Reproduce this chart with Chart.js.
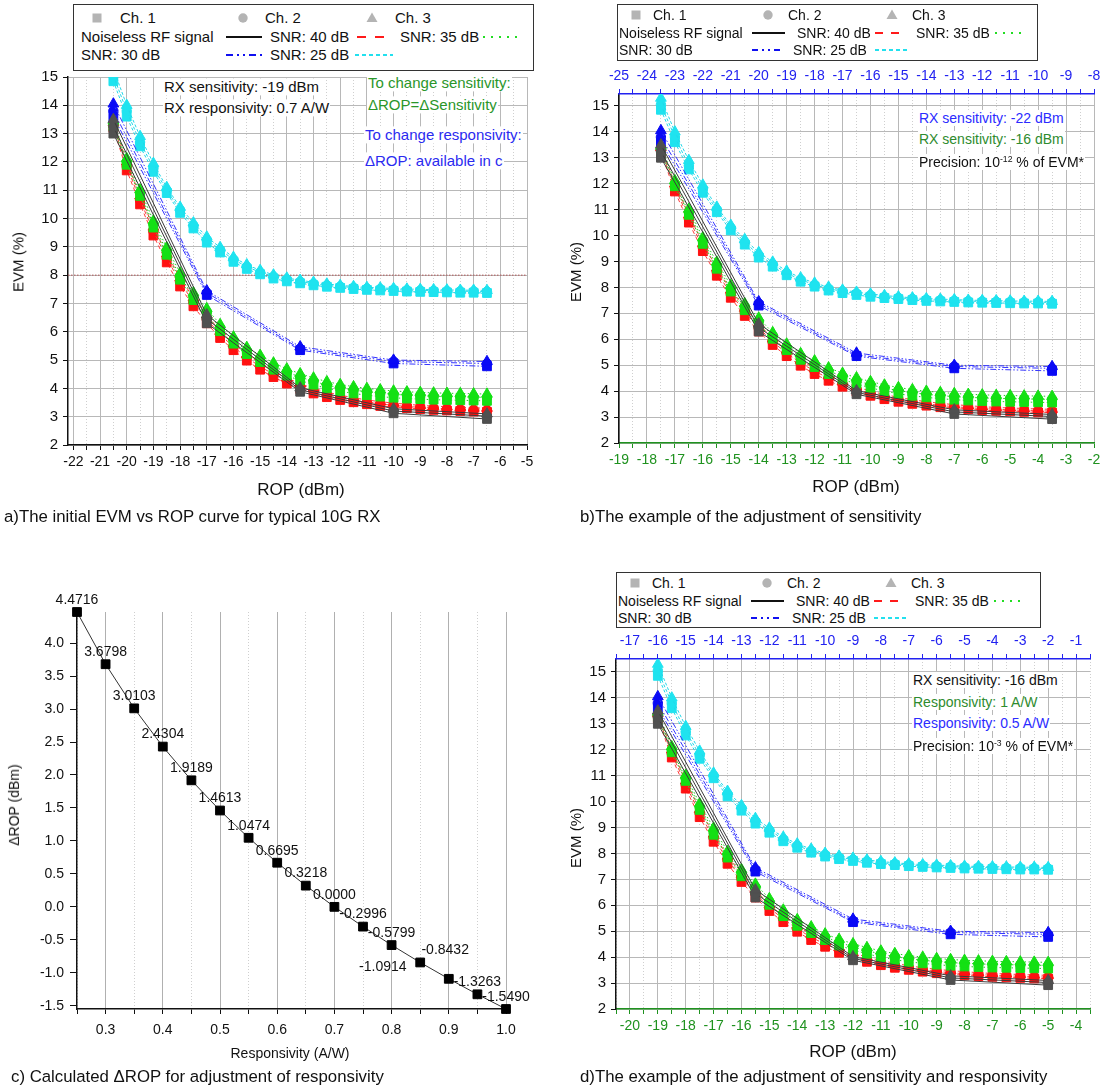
<!DOCTYPE html>
<html>
<head>
<meta charset="utf-8">
<script src="https://cdn.jsdelivr.net/npm/chart.js@4.4.0/dist/chart.umd.min.js"></script>
<style>
  body { margin: 0; background: #fff; width: 1110px; height: 1089px; position: relative; overflow: hidden;
         font-family: "Liberation Sans", Arial, sans-serif; color: #111; }
  canvas { position: absolute; }
  .t { position: absolute; white-space: nowrap; line-height: 1.15; }
  .lg { position: absolute; border: 1px solid #333; background: #fff; box-sizing: border-box; }
  sup { font-size: 0.62em; vertical-align: 0; position: relative; top: -0.55em; line-height: 0; }
</style>
</head>
<body>
<canvas id="chA" width="555" height="450" style="left:0;top:55px"></canvas>
<canvas id="chB" width="550" height="430" style="left:560px;top:60px"></canvas>
<canvas id="chC" width="545" height="460" style="left:0;top:590px"></canvas>
<canvas id="chD" width="550" height="430" style="left:560px;top:625px"></canvas>
<script>
// ROP positions (dBm) of the measured points
const ropA = [-20.5,-20,-19.5,-19,-18.5,-18,-17.5,-17,-16.5,-16,-15.5,-15,-14.5,-14,-13.5,-13,-12.5,-12,-11.5,-11,-10.5,-10,-9.5,-9,-8.5,-8,-7.5,-7,-6.5];
const ropB = [-17.5,-17,-16.5,-16,-15.5,-15,-14.5,-14,-13.5,-13,-12.5,-12,-11.5,-11,-10.5,-10,-9.5,-9,-8.5,-8,-7.5,-7,-6.5,-6,-5.5,-5,-4.5,-4,-3.5];
const ropD = [-19,-18.5,-18,-17.5,-17,-16.5,-16,-15.5,-15,-14.5,-14,-13.5,-13,-12.5,-12,-11.5,-11,-10.5,-10,-9.5,-9,-8.5,-8,-7.5,-7,-6.5,-6,-5.5,-5];
const ropA5 = [-20.5,-17,-13.5,-10,-6.5];
const ropB5 = [-17.5,-14,-10.5,-7,-3.5];
const ropD5 = [-19,-15.5,-12,-8.5,-5];

// EVM (%) - noiseless RF signal, Ch.1/2/3
const evmNoiseless1 = [13.0, 6.3, 3.88, 3.12, 2.92];
const evmNoiseless2 = [13.25, 6.45, 3.95, 3.2, 3.02];
const evmNoiseless3 = [13.5, 6.6, 4.02, 3.28, 3.1];
// SNR 40 dB
const evm40_1 = [13.2,11.7,10.5,9.4,8.45,7.6,6.9,6.3,5.78,5.35,4.98,4.66,4.4,4.17,3.98,3.82,3.69,3.59,3.51,3.44,3.38,3.34,3.3,3.27,3.24,3.22,3.2,3.18,3.17];
const evm40_2 = [13.3,11.85,10.65,9.55,8.6,7.75,7.05,6.45,5.9,5.47,5.09,4.77,4.5,4.27,4.07,3.91,3.78,3.67,3.58,3.51,3.45,3.4,3.36,3.33,3.3,3.28,3.26,3.24,3.23];
const evm40_3 = [13.4,12.0,10.8,9.7,8.75,7.9,7.2,6.6,6.02,5.59,5.2,4.88,4.6,4.37,4.16,4.0,3.87,3.76,3.67,3.59,3.53,3.48,3.44,3.4,3.37,3.35,3.33,3.31,3.3];
// SNR 35 dB
const evm35_1 = [13.25,11.9,10.8,9.68,8.72,7.84,7.12,6.57,6.02,5.58,5.21,4.93,4.66,4.45,4.28,4.13,4.0,3.9,3.82,3.76,3.71,3.67,3.64,3.62,3.6,3.59,3.58,3.57,3.56];
const evm35_2 = [13.35,12.0,10.9,9.8,8.85,7.96,7.25,6.7,6.14,5.7,5.33,5.05,4.78,4.57,4.4,4.25,4.12,4.02,3.94,3.88,3.83,3.79,3.76,3.74,3.72,3.71,3.7,3.69,3.68];
const evm35_3 = [13.45,12.12,11.02,9.92,8.98,8.08,7.38,6.82,6.26,5.82,5.45,5.17,4.9,4.69,4.52,4.37,4.24,4.14,4.06,4.0,3.95,3.91,3.88,3.86,3.84,3.83,3.82,3.81,3.8];
// SNR 30 dB
const evm30_1 = [13.6, 7.3, 5.35, 4.88, 4.78];
const evm30_2 = [13.8, 7.38, 5.4, 4.95, 4.88];
const evm30_3 = [14.05, 7.45, 5.47, 5.0, 4.95];
// SNR 25 dB
const evm25_1 = [14.85,13.6,12.55,11.65,10.9,10.2,9.65,9.15,8.8,8.47,8.22,8.03,7.88,7.78,7.71,7.64,7.59,7.55,7.51,7.48,7.46,7.44,7.42,7.41,7.4,7.39,7.38,7.38,7.37];
const evm25_2 = [15.05,13.8,12.7,11.8,11.0,10.3,9.75,9.25,8.9,8.55,8.3,8.1,7.95,7.85,7.77,7.7,7.64,7.6,7.56,7.53,7.51,7.49,7.47,7.46,7.45,7.44,7.43,7.43,7.42];
const evm25_3 = [15.3,14.0,12.9,11.95,11.1,10.4,9.85,9.35,8.98,8.63,8.37,8.17,8.01,7.9,7.82,7.75,7.69,7.64,7.6,7.57,7.55,7.53,7.51,7.5,7.49,7.48,7.47,7.47,7.46];
const evmLimit = 8;

// panel c
const responsivity = [0.25,0.30,0.35,0.40,0.45,0.50,0.55,0.60,0.65,0.70,0.75,0.80,0.85,0.90,0.95,1.00];
const deltaRop = [4.4716,3.6798,3.0103,2.4304,1.9189,1.4613,1.0474,0.6695,0.3218,0.0000,-0.2996,-0.5799,-0.8432,-1.0914,-1.3263,-1.5490];

Chart.defaults.font.family = '"Liberation Sans", Arial, sans-serif';
Chart.defaults.font.size = 14;
Chart.defaults.color = '#111';

const GREEN_AX = '#1f921f', BLUE_AX = '#2222f0';
const isInt = v => v !== undefined && Math.abs(v - Math.round(v)) < 1e-6;
const styles = ['rect', 'circle', 'triangle'];
const radii = [6.2, 4.7, 6.2];

function group(name, xs, ys, color, lineColor, dash) {
  // ys: [ch1, ch2, ch3]; triangles listed first so they land on top
  return [2, 1, 0].map(k => ({
    label: name + ' Ch. ' + (k + 1),
    data: xs.map((x, i) => ({ x: x, y: ys[k][i] })),
    showLine: true,
    borderColor: lineColor,
    borderWidth: 1,
    borderDash: dash,
    pointStyle: styles[k],
    pointRadius: radii[k],
    pointHoverRadius: radii[k],
    pointBackgroundColor: color,
    pointBorderColor: color,
    pointBorderWidth: 1
  }));
}

function xAxis(min, max, pos, color, height) {
  return {
    type: 'linear', position: pos, min: min, max: max,
    afterFit: s => { s.height = height; },
    ticks: { stepSize: 0.5, includeBounds: false, autoSkip: false, maxRotation: 0, minRotation: 0, padding: 4, color: color,
             font: { size: 14 }, callback: v => isInt(v) ? String(Math.round(v)) : '' },
    grid: { drawOnChartArea: pos === 'bottom',
            color: c => c.tick && isInt(c.tick.value) ? '#b8b8b8' : '#cfcfcf',
            tickColor: color, tickLength: 5 },
    border: { color: color, width: 1.5, dash: c => c.tick && !isInt(c.tick.value) ? [1, 2] : [] }
  };
}

function yAxis(min, max, width) {
  return {
    min: min, max: max,
    afterFit: s => { s.width = width; },
    ticks: { stepSize: 0.5, includeBounds: false, padding: 5, color: '#111', font: { size: 15 },
             callback: v => isInt(v) ? String(Math.round(v)) : '' },
    grid: { color: c => c.tick && isInt(c.tick.value) ? '#b8b8b8' : 'rgba(0,0,0,0)', tickColor: '#111', tickLength: 5 },
    border: { color: '#111', width: 1.5 }
  };
}

function evmChart(id, rop, rop5, xMin, xMax, xColor, top, yMax, yW, pad, limit) {
  const ds = [].concat(
    group('Noiseless RF signal', rop5, [evmNoiseless1, evmNoiseless2, evmNoiseless3], '#505050', '#3a3a3a', []),
    group('SNR: 30 dB', rop5, [evm30_1, evm30_2, evm30_3], '#0a0af5', '#3434ff', [6, 2, 1.5, 2, 1.5, 2]),
    group('SNR: 35 dB', rop, [evm35_1, evm35_2, evm35_3], '#14e014', '#22cc22', [1.5, 2.5]),
    group('SNR: 40 dB', rop, [evm40_1, evm40_2, evm40_3], '#ff1111', '#ff3a3a', [4, 3]),
    group('SNR: 25 dB', rop, [evm25_1, evm25_2, evm25_3], '#1fe3ef', '#22d8e8', [3, 2])
  );
  if (limit) {
    ds.push({ label: 'limit', data: [{ x: xMin, y: evmLimit }, { x: xMax, y: evmLimit }], showLine: true,
              borderColor: '#b05555', borderWidth: 1, borderDash: [1.5, 1.5], pointRadius: 0 });
  }
  const scales = { x: xAxis(xMin, xMax, 'bottom', xColor, 40), y: yAxis(2, yMax, yW) };
  if (top) scales.x2 = xAxis(top[0], top[1], 'top', BLUE_AX, 34);
  return new Chart(document.getElementById(id), {
    type: 'scatter',
    data: { datasets: ds },
    options: { responsive: false, animation: false, layout: { padding: pad },
               plugins: { legend: { display: false }, tooltip: { enabled: false } }, scales: scales }
  });
}

evmChart('chA', ropA, ropA5, -22.2, -5, '#111', null, 15, 68, { left: 0, top: 22, right: 28, bottom: 20 }, true);
evmChart('chB', ropB, ropB5, -19, -2, GREEN_AX, [-25, -8], 15.46, 59, { left: 0, top: 0, right: 16, bottom: 7 }, false);
evmChart('chD', ropD, ropD5, -20.5, -3.5, GREEN_AX, [-17.5, -0.5], 15.5, 56, { left: 0, top: 0, right: 20, bottom: 6 }, false);

// panel c: value labels above the points (two of them moved sideways)
const labelShift = { 12: 25, 13: -66 };
const valueLabels = {
  id: 'valueLabels',
  afterDatasetsDraw(chart) {
    const ctx = chart.ctx;
    const meta = chart.getDatasetMeta(0);
    ctx.save();
    ctx.font = '14px "Liberation Sans", Arial, sans-serif';
    ctx.fillStyle = '#111';
    ctx.textAlign = 'center';
    ctx.textBaseline = 'middle';
    meta.data.forEach((pt, i) => {
      ctx.fillText(deltaRop[i].toFixed(4), pt.x + (labelShift[i] || 0), pt.y - 12);
    });
    ctx.restore();
  }
};
const isTenth = v => v !== undefined && Math.abs(v * 10 - Math.round(v * 10)) < 1e-6;
const isHalf = v => v !== undefined && Math.abs(v * 2 - Math.round(v * 2)) < 1e-6;
new Chart(document.getElementById('chC'), {
  type: 'scatter',
  data: { datasets: [{ label: 'ΔROP', data: responsivity.map((r, i) => ({ x: r, y: deltaRop[i] })), showLine: true,
    clip: false, borderColor: '#333', borderWidth: 1, pointStyle: 'rect', pointRadius: 6.2, pointHoverRadius: 6.2,
    pointBackgroundColor: '#000', pointBorderColor: '#000' }] },
  options: {
    responsive: false, animation: false,
    layout: { padding: { left: 0, top: 22, right: 39, bottom: 1 } },
    plugins: { legend: { display: false }, tooltip: { enabled: false } },
    scales: {
      x: { type: 'linear', min: 0.25, max: 1.0,
           afterFit: s => { s.height = 40; },
           ticks: { stepSize: 0.05, autoSkip: false, maxRotation: 0, minRotation: 0, padding: 8, font: { size: 14 },
                    callback: v => isTenth(v) ? v.toFixed(1) : '' },
           grid: { color: c => c.tick && isTenth(c.tick.value) ? '#b0b0b0' : '#cfcfcf', tickColor: '#111', tickLength: 5 },
           border: { color: '#111', width: 1.5, dash: c => c.tick && !isTenth(c.tick.value) ? [1, 2] : [] } },
      y: { type: 'linear', position: 'left', min: -1.549, max: 4.4716,
           afterFit: s => { s.width = 77; },
           ticks: { stepSize: 0.25, includeBounds: false, padding: 6, font: { size: 14 },
                    callback: v => isHalf(v) ? v.toFixed(1) : '' },
           grid: { color: 'rgba(0,0,0,0)', tickColor: '#111', tickLength: 7 },
           border: { color: '#111', width: 1.5 } }
    }
  },
  plugins: [valueLabels]
});

// ---- text ----
function put(x, cy, html, size, color, opt) {
  opt = opt || {};
  const d = document.createElement('div');
  d.className = 't';
  d.innerHTML = html;
  d.style.fontSize = size + 'px';
  d.style.color = color || '#111';
  d.style.left = x + 'px';
  d.style.top = cy + 'px';
  let tf = 'translateY(-50%)';
  if (opt.center) tf = 'translate(-50%,-50%)';
  if (opt.rot) tf = 'translate(-50%,-50%) rotate(-90deg)';
  d.style.transform = tf;
  if (opt.bg) { d.style.background = '#fff'; d.style.padding = '0 1px'; }
  document.body.appendChild(d);
}

// legends
function legend(bx, by, w, h, fs, L) {
  const box = document.createElement('div');
  box.className = 'lg';
  box.style.left = bx + 'px'; box.style.top = by + 'px';
  box.style.width = w + 'px'; box.style.height = h + 'px';
  document.body.appendChild(box);
  const g = '#b4b4b4';
  const r = L.rows;
  let svg = '<svg width="' + w + '" height="' + h + '" style="position:absolute;left:-1px;top:-1px">';
  svg += '<rect x="' + (L.mk[0] - 4.5) + '" y="' + (r[0] - 4.5) + '" width="9" height="9" fill="' + g + '"/>';
  svg += '<circle cx="' + L.mk[1] + '" cy="' + r[0] + '" r="4.7" fill="' + g + '"/>';
  svg += '<polygon points="' + (L.mk[2] - 5.5) + ',' + (r[0] + 4) + ' ' + (L.mk[2] + 5.5) + ',' + (r[0] + 4) + ' ' + L.mk[2] + ',' + (r[0] - 5.5) + '" fill="' + g + '"/>';
  L.lines.forEach(s => {
    svg += '<line x1="' + s[0] + '" x2="' + s[1] + '" y1="' + r[s[2]] + '" y2="' + r[s[2]] + '" stroke="' + s[3] + '" stroke-width="2.2" stroke-dasharray="' + s[4] + '"/>';
  });
  svg += '</svg>';
  box.innerHTML = svg;
  L.texts.forEach(t => put(bx + t[0], by + r[t[1]], t[2], fs, '#111'));
}
const legendLines = (k, p) => [
  [k[0], k[1], 1, '#111', '0'], [k[2], k[3], 1, '#ff1a1a', p[0]], [k[4], k[5], 1, '#22dd22', p[1]],
  [k[6], k[7], 2, '#1010f0', p[2]], [k[8], k[9], 2, '#22e0ee', p[3]]
];
const legendTexts = (t) => [
  [t[0], 0, 'Ch. 1'], [t[1], 0, 'Ch. 2'], [t[2], 0, 'Ch. 3'],
  [t[3], 1, 'Noiseless RF signal'], [t[4], 1, 'SNR: 40 dB'], [t[5], 1, 'SNR: 35 dB'],
  [t[3], 2, 'SNR: 30 dB'], [t[6], 2, 'SNR: 25 dB']
];
legend(73, 4, 461, 67, 15, {
  rows: [14, 33, 51], mk: [24, 170, 299],
  lines: legendLines([153, 189, 284, 312, 410, 450, 153, 189, 282, 320], ['9 9', '2 6', '7 4 2 4 2 4', '4 3']),
  texts: legendTexts([47, 192, 322, 8, 197, 327, 197])
});
const lgBD = {
  rows: [11, 29, 46], mk: [19, 151, 275],
  lines: legendLines([135, 168, 258, 288, 378, 405, 135, 166, 258, 290], ['8 8', '2 6', '6 4 2 4 2 4', '4 3']),
  texts: legendTexts([36, 171, 295, 2, 180, 299, 176])
};
legend(617, 4, 421, 57, 14, lgBD);
legend(616, 572, 425, 56, 14, lgBD);

// panel a texts
put(163, 87, 'RX sensitivity: -19 dBm', 15, '#111', { bg: 1 });
put(163, 108, 'RX responsivity: 0.7 A/W', 15, '#111', { bg: 1 });
put(367, 83, 'To change sensitivity:', 15, '#2a962a', { bg: 1 });
put(367, 105, 'ΔROP=ΔSensitivity', 15, '#2a962a', { bg: 1 });
put(364, 135, 'To change responsivity:', 15, '#2a2af0', { bg: 1 });
put(364, 161, 'ΔROP: available in c', 15, '#2a2af0', { bg: 1 });
put(301, 490, 'ROP (dBm)', 17, '#111', { center: 1 });
put(18, 262, 'EVM (%)', 15, '#111', { rot: 1 });
put(4, 517, 'a)The initial EVM vs ROP curve for typical 10G RX', 16.8, '#111');

// panel b texts
put(918, 118, 'RX sensitivity: -22 dBm', 14, '#2b2bff', { bg: 1 });
put(918, 139, 'RX sensitivity: -16 dBm', 14, '#2e8b2e', { bg: 1 });
put(918, 162, 'Precision: 10<sup>-12</sup> % of EVM*', 14, '#111', { bg: 1 });
put(856, 487, 'ROP (dBm)', 17, '#111', { center: 1 });
put(576, 272, 'EVM (%)', 15, '#111', { rot: 1 });
put(580, 517, 'b)The example of the adjustment of sensitivity', 16.8, '#111');

// panel c texts
put(290, 1053, 'Responsivity (A/W)', 14, '#111', { center: 1 });
put(14, 805, 'ΔROP (dBm)', 14, '#111', { rot: 1 });
put(11, 1077, 'c) Calculated ΔROP for adjustment of responsivity', 16.8, '#111');

// panel d texts
put(912, 680, 'RX sensitivity: -16 dBm', 14, '#111', { bg: 1 });
put(912, 702, 'Responsivity: 1 A/W', 14, '#2e8b2e', { bg: 1 });
put(912, 723, 'Responsivity: 0.5 A/W', 14, '#2b2bff', { bg: 1 });
put(912, 746, 'Precision: 10<sup>-3</sup> % of EVM*', 14, '#111', { bg: 1 });
put(853, 1052, 'ROP (dBm)', 17, '#111', { center: 1 });
put(576, 838, 'EVM (%)', 15, '#111', { rot: 1 });
put(580, 1077, 'd)The example of the adjustment of sensitivity and responsivity', 16.8, '#111');
</script>
</body>
</html>
